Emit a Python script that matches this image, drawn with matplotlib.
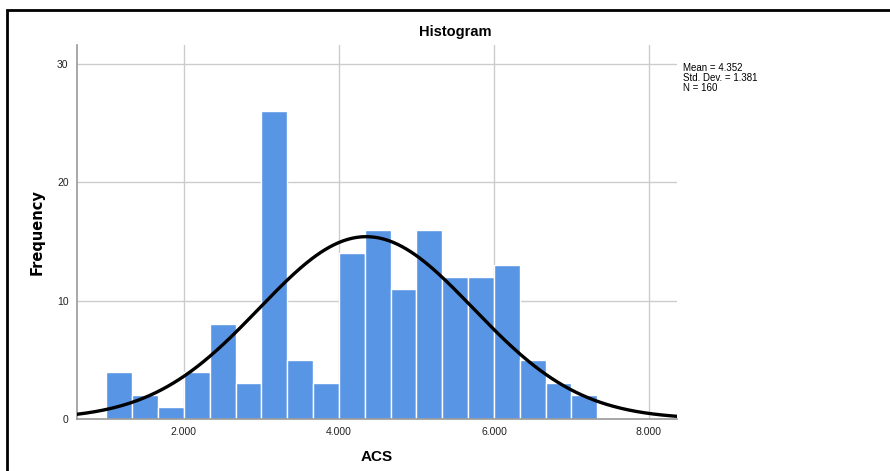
import numpy as np
import matplotlib.pyplot as plt
from matplotlib.patches import Rectangle

plt.rcParams['font.family'] = ['Liberation Sans', 'DejaVu Sans']

# histogram data
bin_start = 1.0
bin_width = 1.0 / 3.0
counts = [4, 2, 1, 4, 8, 3, 26, 5, 3, 14, 16, 11, 16, 12, 12, 13, 5, 3, 2]
mean = 4.352
std = 1.381
n = 160
x_ticks = [2, 4, 6, 8]
x_tick_labels = ["2.000", "4.000", "6.000", "8.000"]
y_ticks = [0, 10, 20, 30]

edges = bin_start + bin_width * np.arange(len(counts) + 1)

fig = plt.figure(figsize=(8.9, 4.71), dpi=100)
ax = fig.add_axes([0.0865, 0.1104, 0.674, 0.794])

ax.bar(edges[:-1], counts, width=bin_width, align='edge',
       color='#5896e5', edgecolor='white', linewidth=1.0, zorder=2)

# normal curve scaled to counts
xs = np.linspace(0.62, 8.36, 400)
ys = n * bin_width * np.exp(-0.5 * ((xs - mean) / std) ** 2) / (std * np.sqrt(2 * np.pi))
ax.plot(xs, ys, color='black', linewidth=2.4, zorder=3)

ax.set_xlim(0.62, 8.36)
ax.set_ylim(0, 31.6)
ax.set_xticks(x_ticks)
ax.set_xticklabels(x_tick_labels)
ax.set_yticks(y_ticks)
ax.tick_params(length=0, labelsize=7.5, colors='#222222', pad=6)
ax.grid(True, color='#cccccc', linewidth=1.0, zorder=0)
ax.set_axisbelow(True)
for s in ['top', 'right']:
    ax.spines[s].set_visible(False)
for s in ['left', 'bottom']:
    ax.spines[s].set_color('#999999')
    ax.spines[s].set_linewidth(1.2)

ax.set_xlabel("ACS", fontsize=11, fontweight='bold', labelpad=9)
ax.set_ylabel("Frequency", fontsize=10.5, fontweight='bold', labelpad=9,
              family=['DejaVu Sans'])

fig.text(455 / 890, 1 - 32 / 471, "Histogram", fontsize=10.5, fontweight='bold',
         ha='center', va='center')
fig.text(683 / 890, 1 - 63 / 471,
         f"Mean = {mean}\nStd. Dev. = {std}\nN = {n}",
         fontsize=7, ha='left', va='top', linespacing=1.0)

# outer frame of the output window
frame = Rectangle((7 / 890, -0.1), 1.2, 1 - 10 / 471 + 0.1, transform=fig.transFigure,
                  fill=False, edgecolor='black', linewidth=2, clip_on=False)
fig.patches.append(frame)

fig.savefig("out.png", dpi=100)
